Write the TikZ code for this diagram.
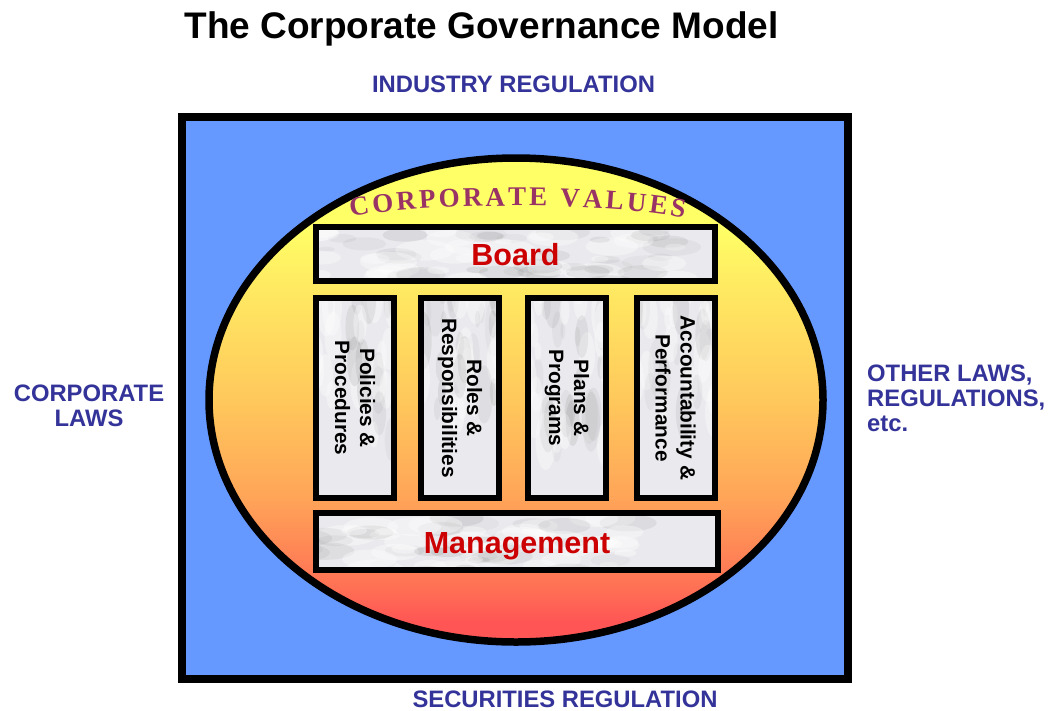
\documentclass[tikz,border=0pt]{standalone}
\usepackage{fontspec}
\setmainfont{Liberation Sans}
\newfontfamily\valfont{Liberation Serif}
\usetikzlibrary{shapes.geometric,decorations.text}

\definecolor{framefill}{RGB}{102,153,255}
\definecolor{labelblue}{RGB}{51,51,153}
\definecolor{valcol}{RGB}{153,51,102}
\definecolor{boxred}{RGB}{204,0,0}
\definecolor{marblebg}{RGB}{234,234,238}

% yellow at the top of the oval, fading through orange to red at the bottom
\pgfdeclareverticalshading{corefill}{100bp}{%
  rgb(0bp)=(1,0.333,0.333); rgb(27bp)=(1,0.333,0.333);
  rgb(31bp)=(1,0.45,0.333); rgb(40bp)=(1,0.647,0.345);
  rgb(50bp)=(1,0.784,0.36); rgb(62bp)=(1,0.92,0.384);
  rgb(68bp)=(1,1,0.4); rgb(100bp)=(1,1,0.4)}

\tikzset{
  % light grey stone: soft overlapping clouds
  marble/.style 2 args={fill=marblebg, path picture={
    \begin{scope}[shift={(path picture bounding box.center)}]
    \foreach \k in {1,...,55}{
      \pgfmathsetmacro\mx{#1*rand}
      \pgfmathsetmacro\my{#2*rand}
      \pgfmathsetmacro\ma{20+30*rand}
      \pgfmathsetmacro\mr{8+22*rnd}
      \pgfmathsetmacro\mo{0.04+0.07*rnd}
      \fill[black!70, opacity=\mo, rotate around={\ma:(\mx,\my)}]
        (\mx,\my) ellipse [x radius=\mr, y radius=0.3*\mr];
      \pgfmathsetmacro\nx{#1*rand}
      \pgfmathsetmacro\ny{#2*rand}
      \fill[white, opacity=0.35, rotate around={\ma:(\nx,\ny)}]
        (\nx,\ny) ellipse [x radius=\mr, y radius=0.35*\mr];
    }
    \end{scope}}},
  framebox/.style={rectangle, draw=black, line width=8pt, fill=framefill,
    minimum width=666, minimum height=562, inner sep=0},
  core/.style={ellipse, draw=black, line width=7.5pt, shade, shading=corefill,
    minimum width=614, minimum height=484, inner sep=0},
  slab/.style={rectangle, draw=black, line width=6pt, marble={210}{35}, inner sep=0,
    text height=23pt, text depth=0pt,
    text=boxred, font=\fontsize{30.5}{36}\selectfont\bfseries},
  pillar/.style={rectangle, draw=black, line width=6pt, marble={100}{100}, inner sep=0,
    rotate=-90, minimum width=200, minimum height=78, align=center,
    font=\fontsize{20.8}{25}\selectfont\bfseries},
  outer label/.style={inner sep=0, text=labelblue,
    font=\fontsize{23.8}{25}\selectfont\bfseries},
}

\begin{document}
\begin{tikzpicture}[x=1pt,y=-1pt]
\pgfmathsetseed{11}
\useasboundingbox[fill=white] (0,0) rectangle (1052,710);

% heading
\node[inner sep=0, anchor=base, font=\fontsize{37}{44}\selectfont\bfseries]
  (title) at (481.5,38) {The Corporate Governance Model};

% regulatory frame and the values oval
\node[framebox] (frame) at (515,398) {};
\node[core] (core) at (516,400) {};

\path[decorate, decoration={text along path, text align=fit to path, text color=valcol,
  text={|\valfont\bfseries\fontsize{27}{27}\selectfont|CORPORATE VALUES}}]
  (351,217) .. controls (430,202) and (605,202) .. (684,218);

% governance structure
\node[slab, minimum width=399, minimum height=54] (board) at (515.5,254) {Board};
\node[pillar] (policies) at (355,398) {Policies \&\\Procedures};
\node[pillar] (roles) at (460,398) {Roles \&\\Responsibilities};
\node[pillar] (plans) at (567,398) {Plans \&\\Programs};
\node[pillar] (account) at (675.5,398) {Accountability \&\\Performance};
\node[slab, minimum width=402, minimum height=57] (mgmt) at (517,541.5) {Management};

% surrounding legal environment
\node[outer label, anchor=base] (industry) at (513.5,92) {INDUSTRY REGULATION};
\node[outer label, anchor=base] (securities) at (565,707) {SECURITIES REGULATION};
\node[outer label, align=center] (corplaws) at (89,405.5) {CORPORATE\\LAWS};
\node[outer label, align=left, anchor=west] (otherlaws) at (867,398)
  {OTHER LAWS,\\REGULATIONS,\\etc.};
\end{tikzpicture}
\end{document}
